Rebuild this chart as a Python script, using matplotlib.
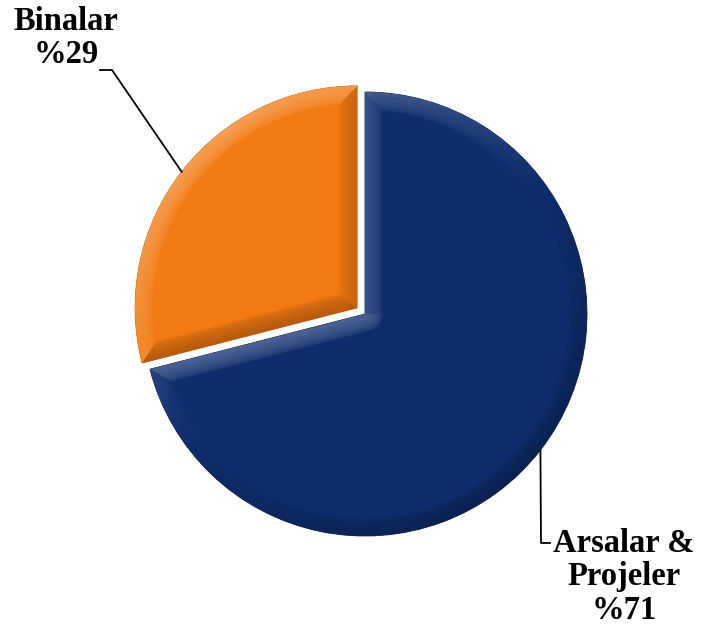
import matplotlib.pyplot as plt
import numpy as np
from matplotlib.colors import to_rgb

plt.rcParams['font.family'] = ['Liberation Serif', 'DejaVu Serif']

labels = ["Arsalar &\nProjeler", "Binalar"]
values = [71, 29]
colors = ["#0F2D6C", "#F27A12"]
explode = [0.0, 0.045]

fig = plt.figure(figsize=(7.01, 6.33), dpi=100)
ax = fig.add_axes([0, 0, 1, 1])

wedges, _ = ax.pie(values, colors=colors, explode=explode, startangle=90,
                   counterclock=False, radius=1.0,
                   wedgeprops=dict(linewidth=0.6))

# pie centre at pixel (365, 314), radius 222 px
cx, cy, r = 365, 314, 222
xmin, xmax = (0 - cx) / r, (701 - cx) / r
ymin, ymax = (cy - 633) / r, (cy - 0) / r
ax.set_xlim(xmin, xmax)
ax.set_ylim(ymin, ymax)
ax.set_aspect("equal")
ax.axis("off")

# soft bevel shading, light from the upper left
gx, gy = np.meshgrid(np.linspace(xmin, xmax, 701), np.linspace(ymax, ymin, 633))
light = np.array([-0.6, 0.8])
bw = 0.08


def edge(rho, phi, t, side):
    # distance to a radial edge (a ray, not a full line) and its light factor
    d = np.where(np.cos(phi - t) > 0, rho * np.abs(np.sin(phi - t)), rho)
    a = t + side * np.pi / 2
    return d, np.cos(a) * light[0] + np.sin(a) * light[1]


for w, c in zip(wedges, colors):
    base = np.array(to_rgb(c))
    w.set_edgecolor(base * 0.8)
    ox, oy = w.center
    rx, ry = gx - ox, gy - oy
    rho = np.hypot(rx, ry) + 1e-9
    phi = np.arctan2(ry, rx)
    t1, t2 = np.deg2rad(w.theta1), np.deg2rad(w.theta2)
    d_arc = 1 - rho
    n_arc = (rx / rho) * light[0] + (ry / rho) * light[1]
    d1, n1 = edge(rho, phi, t1, -1)
    d2, n2 = edge(rho, phi, t2, 1)
    d = np.stack([d_arc, d1, d2])
    n = np.stack([n_arc, np.full_like(d1, n1), np.full_like(d2, n2)])
    k = np.argmin(d, axis=0)
    dmin = np.take_along_axis(d, k[None], 0)[0]
    shade = np.take_along_axis(n, k[None], 0)[0]
    amt = np.clip(1 - dmin / bw, 0, 1) ** 0.5 * shade * 0.28
    rgb = np.where(amt[..., None] > 0,
                   base + (1 - base) * amt[..., None],
                   base * (1 + amt[..., None]))
    rgba = np.dstack([np.clip(rgb, 0, 1), np.ones_like(amt)])
    im = ax.imshow(rgba, extent=(xmin, xmax, ymin, ymax), origin="upper",
                   interpolation="bilinear", zorder=w.get_zorder() + 0.1)
    im.set_clip_path(w)


def px(x, y):
    return (x - cx) / r, (cy - y) / r


# leader lines from wedge bisectors
for i, w in enumerate(wedges):
    ang = np.deg2rad((w.theta1 + w.theta2) / 2)
    x0 = w.center[0] + np.cos(ang)
    y0 = w.center[1] + np.sin(ang)
    if i == 1:
        ex, ey = px(112, 70)
        tx, ty = px(100, 70)
    else:
        ex, ey = px(541, 543)
        tx, ty = px(550, 543)
    ax.plot([x0, ex, tx], [y0, ey, ty], color="black", lw=1.3, zorder=5)

ax.set_xlim(xmin, xmax)
ax.set_ylim(ymin, ymax)

lx, ly = px(66, 38)
ax.text(lx, ly, f"{labels[1]}\n%{values[1]}", ha="center", va="center",
        fontsize=23.5, fontweight="bold", linespacing=1.08)
lx, ly = px(624, 577)
ax.text(lx, ly, f"{labels[0]}\n%{values[0]}", ha="center", va="center",
        fontsize=23.5, fontweight="bold", linespacing=1.1)

fig.savefig("out.png", dpi=100)
